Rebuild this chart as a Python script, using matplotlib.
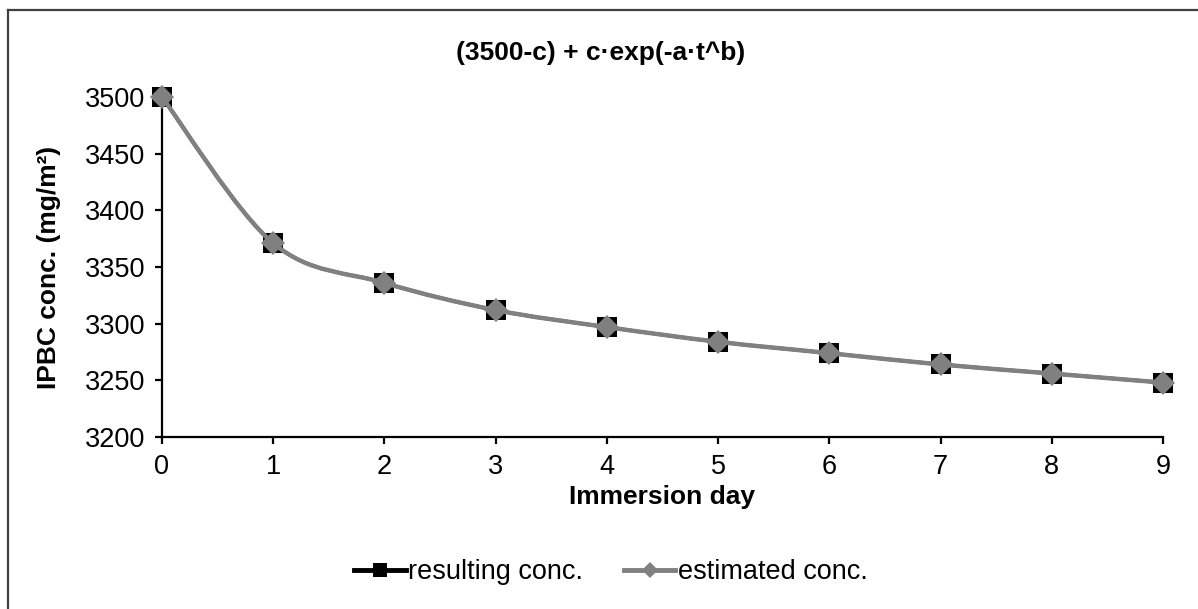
import matplotlib.pyplot as plt
from matplotlib.path import Path
from matplotlib.patches import PathPatch
from matplotlib.lines import Line2D

plt.rcParams['font.family'] = ['Liberation Sans', 'DejaVu Sans']

days = [0, 1, 2, 3, 4, 5, 6, 7, 8, 9]
resulting = [3500, 3371, 3336, 3312, 3297, 3284, 3274, 3264, 3256, 3248]
estimated = [3500, 3371, 3336, 3312, 3297, 3284, 3274, 3264, 3256, 3248]
title = '(3500-c) + c·exp(-a·t^b)'


def smooth_path(x, y):
    # excel style smoothed line: catmull-rom bezier through the points
    pts = list(zip(x, y))
    verts = [pts[0]]
    codes = [Path.MOVETO]
    n = len(pts)
    for i in range(n - 1):
        p0 = pts[max(i - 1, 0)]
        p1 = pts[i]
        p2 = pts[i + 1]
        p3 = pts[min(i + 2, n - 1)]
        c1 = (p1[0] + (p2[0] - p0[0]) / 6, p1[1] + (p2[1] - p0[1]) / 6)
        c2 = (p2[0] - (p3[0] - p1[0]) / 6, p2[1] - (p3[1] - p1[1]) / 6)
        verts += [c1, c2, p2]
        codes += [Path.CURVE4] * 3
    return Path(verts, codes)


fig = plt.figure(figsize=(11.98, 6.09), dpi=100)
ax = fig.add_axes([0.1352, 0.2824, 0.8356, 0.5583])

ax.add_patch(PathPatch(smooth_path(days, resulting), fill=False, edgecolor='black',
                       lw=2.5, zorder=2, clip_on=False))
ax.plot(days, resulting, linestyle='none', marker='s', color='black',
        markersize=14.5, markeredgewidth=0, zorder=3, clip_on=False)
ax.add_patch(PathPatch(smooth_path(days, estimated), fill=False, edgecolor='#808080',
                       lw=3.2, zorder=4, capstyle='round', clip_on=False))
ax.plot(days, estimated, linestyle='none', marker='D', color='#808080',
        markersize=12, markeredgewidth=0, zorder=5, clip_on=False)

ax.set_xlim(0, 9)
ax.set_ylim(3200, 3500)
ax.set_xticks(days)
ax.set_yticks(range(3200, 3501, 50))
for s in ['top', 'right']:
    ax.spines[s].set_visible(False)
for s in ['left', 'bottom']:
    ax.spines[s].set_linewidth(1.6)
    ax.spines[s].set_zorder(1)
ax.tick_params(direction='out', length=5, width=1.6, labelsize=19.5, pad=7)

ax.set_xlabel('Immersion day', fontsize=19, fontweight='bold', labelpad=4)
ax.set_ylabel('IPBC conc. (mg/m²)', fontsize=19, fontweight='bold', labelpad=17)
fig.text(0.501, 1 - 53 / 609, title, ha='center', va='center', fontsize=19,
         fontweight='bold')

h1 = Line2D([], [], color='black', lw=3.5, marker='s', markersize=10,
            markeredgewidth=0)
h2 = Line2D([], [], color='#808080', lw=3.5, marker='D', markersize=8.5,
            markeredgewidth=0)
fig.legend([h1, h2], ['resulting conc.', 'estimated conc.'], loc='center',
           bbox_to_anchor=(0.51, 1 - 572 / 609), ncol=2, frameon=False,
           fontsize=19.5, handlelength=1.9, handletextpad=0.1, columnspacing=1.5)

# chart frame
fig.add_artist(Line2D([8 / 1198, 1], [1 - 10 / 609, 1 - 10 / 609],
                      color='#404040', lw=1.6, transform=fig.transFigure))
fig.add_artist(Line2D([8 / 1198, 8 / 1198], [0, 1 - 10 / 609],
                      color='#404040', lw=1.6, transform=fig.transFigure))

fig.savefig('out.png', dpi=100)
